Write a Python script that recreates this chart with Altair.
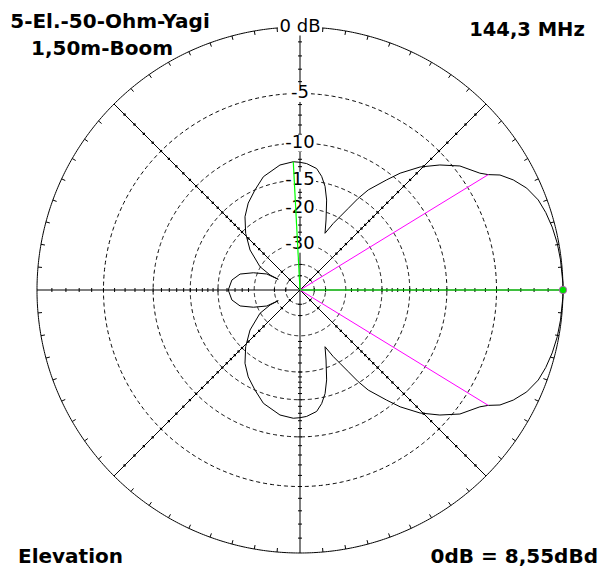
import altair as alt
import numpy as np
import pandas as pd

# ---------------- values ----------------
# radiation pattern, upper half (elevation angle in degrees, relative dB); the plot is mirror-symmetric
pattern_angle = [0, 1.5, 6.6, 10.3, 14.0, 17.5, 20.7, 24.2, 27.3, 29.9, 31.5, 33.0, 37.8, 41.8,
                 45.7, 49.4, 51.8, 55.7, 57.6, 59.4, 61.4, 63.5, 66.2, 69.6, 73.5, 76.4, 79.2,
                 82.2, 87.0, 90.0, 93.0, 99.1, 107.9, 114.2, 120.8, 126.9, 133.8, 141.3, 149.8,
                 153.4, 153.8, 154.3, 159.7, 165.1, 171.7, 180.0]
pattern_db = [0.0, 0.0, -0.05, -0.1, -0.2, -0.35, -0.55, -0.97, -1.57, -2.25, -3.0, -3.5, -4.5, -5.8,
              -7.3, -9.2, -10.8, -13.3, -15.2, -17.5, -19.7, -21.7, -24.8, -21.6, -17.7, -15.5, -14.1,
              -13.1, -12.55, -12.4, -12.3, -12.55, -13.6, -15.0, -16.4, -18.1, -20.75, -24.25, -29.8,
              -35.4, -40.9, -33.7, -28.6, -24.8, -23.0, -22.3]

grid_db = [-5, -10, -15, -20, -30, -40, -50]          # dashed rings
label_db = [0, -5, -10, -15, -20, -30]
label_text = ["0 dB", "-5", "-10", "-15", "-20", "-30"]
label_box_w = [44, 22, 32, 32, 32, 32]
tick_db = list(range(-1, -21, -1)) + [-22, -24, -26, -28, -40, -50]
rim_tick_step_deg = 5

beam_angle = [31.5, -31.5]      # -3 dB points (magenta)
beam_db = [-3.0, -3.0]
max_angle = [0.0, 93.0]         # main lobe / largest side lobe (green)
max_db = [0.0, -12.3]

title_lines = ["5-El.-50-Ohm-Yagi", "1,50m-Boom"]
freq_text = "144,3 MHz"
plane_text = "Elevation"
gain_text = "0dB = 8,55dBd"

# ---------------- scale (ARRL log-periodic radial scale) ----------------
R = 263.0


def radius(db):
    return R * 0.89 ** (-np.asarray(db, dtype=float) / 2.0)


W, H = 590, 563
xs = alt.Scale(domain=[-292, W - 292], nice=False, zero=False)
ys = alt.Scale(domain=[282 - H, 282], nice=False, zero=False)
X = lambda f: alt.X(f, type="quantitative", scale=xs, axis=None)
Y = lambda f: alt.Y(f, type="quantitative", scale=ys, axis=None)

# rings
t = np.linspace(0, 2 * np.pi, 721)
ring_rows = []
for d in grid_db:
    r = float(radius(d))
    for i, tt in enumerate(t):
        ring_rows.append(dict(g=d, i=i, x=r * np.cos(tt), y=r * np.sin(tt)))
rings = pd.DataFrame(ring_rows)
outer = pd.DataFrame(dict(i=range(len(t)), x=R * np.cos(t), y=R * np.sin(t)))

# axes through centre
ax_rows = []
for a in [0, 45, 90, 135]:
    ar = np.radians(a)
    ax_rows.append(dict(x=R * np.cos(ar), y=R * np.sin(ar), x2=-R * np.cos(ar), y2=-R * np.sin(ar)))
axes_df = pd.DataFrame(ax_rows)

# rim ticks
rim_rows = []
for a in range(0, 360, rim_tick_step_deg):
    if a % 45 == 0:
        continue
    ar = np.radians(a)
    rim_rows.append(dict(x=R * np.cos(ar), y=R * np.sin(ar),
                         x2=(R - 4) * np.cos(ar), y2=(R - 4) * np.sin(ar)))
rim_df = pd.DataFrame(rim_rows)

# dB ticks on horizontal / vertical axes, dots on diagonals
tk_rows, dot_rows = [], []
for d in tick_db:
    r = float(radius(d))
    for s in (1, -1):
        tk_rows.append(dict(x=s * r, y=-2, x2=s * r, y2=2))
        tk_rows.append(dict(x=-2, y=s * r, x2=2, y2=s * r))
    c = r / np.sqrt(2)
    for sx in (1, -1):
        for sy in (1, -1):
            dot_rows.append(dict(x=sx * c, y=sy * c))
tk_df = pd.DataFrame(tk_rows)
dot_df = pd.DataFrame(dot_rows)

# labels and their opaque backgrounds
lr = radius(label_db)
lab_df = pd.DataFrame(dict(x=0.0, y=lr, t=label_text))
bw = np.asarray(label_box_w, dtype=float)
box_df = pd.DataFrame(dict(x=-bw / 2, x2=bw / 2, y=lr - 8.5, y2=lr + 8.5))

# pattern (mirror the upper half)
full_ang = pattern_angle + [360 - a for a in reversed(pattern_angle[:-1])]
full_db = pattern_db + list(reversed(pattern_db[:-1]))
pr = radius(full_db)
pa = np.radians(full_ang)
pat_df = pd.DataFrame(dict(i=range(len(full_ang)), x=pr * np.cos(pa), y=pr * np.sin(pa)))

# marker lines
br = radius(beam_db)
bmr = np.radians(beam_angle)
beam_df = pd.DataFrame(dict(x=0.0, y=0.0, x2=br * np.cos(bmr), y2=br * np.sin(bmr)))
mr = radius(max_db)
mar = np.radians(max_angle)
max_df = pd.DataFrame(dict(x=0.0, y=0.0, x2=mr * np.cos(mar), y2=mr * np.sin(mar)))
dot_max = max_df.iloc[[0]][["x2", "y2"]].rename(columns={"x2": "x", "y2": "y"})

# ---------------- layers ----------------
ring_layer = alt.Chart(rings).mark_line(color="black", strokeWidth=1, strokeDash=[4, 3]).encode(
    x=X("x"), y=Y("y"), detail="g:N", order="i:Q")
outer_layer = alt.Chart(outer).mark_line(color="black", strokeWidth=1).encode(
    x=X("x"), y=Y("y"), order="i:Q")
axes_layer = alt.Chart(axes_df).mark_rule(color="black", strokeWidth=1).encode(
    x=X("x"), y=Y("y"), x2="x2", y2="y2")
rim_layer = alt.Chart(rim_df).mark_rule(color="black", strokeWidth=1).encode(
    x=X("x"), y=Y("y"), x2="x2", y2="y2")
tk_layer = alt.Chart(tk_df).mark_rule(color="black", strokeWidth=1).encode(
    x=X("x"), y=Y("y"), x2="x2", y2="y2")
dot_layer = alt.Chart(dot_df).mark_point(shape="square", filled=True, size=5, color="black", opacity=1).encode(
    x=X("x"), y=Y("y"))

lab_font = "DejaVu Sans"
box_layer = alt.Chart(box_df).mark_rect(color="white", opacity=1).encode(
    x=X("x"), x2="x2", y=Y("y"), y2="y2")
labels = alt.Chart(lab_df).mark_text(font=lab_font, fontSize=18, color="black",
                                     baseline="middle", align="center").encode(
    x=X("x"), y=Y("y"), text="t:N")

pat_layer = alt.Chart(pat_df).mark_line(color="black", strokeWidth=1).encode(
    x=X("x"), y=Y("y"), order="i:Q")
beam_layer = alt.Chart(beam_df).mark_rule(color="#FF00FF", strokeWidth=1).encode(
    x=X("x"), y=Y("y"), x2="x2", y2="y2")
max_layer = alt.Chart(max_df).mark_rule(color="#00FF00", strokeWidth=1.2).encode(
    x=X("x"), y=Y("y"), x2="x2", y2="y2")
maxdot_layer = alt.Chart(dot_max).mark_circle(size=55, color="#00E000", opacity=1,
                                              stroke="#CC44CC", strokeWidth=0.8).encode(
    x=X("x"), y=Y("y"))

title_font = "DejaVu Sans"


def txt(s, x, y, align, size):
    return alt.Chart(pd.DataFrame({"t": [s]})).mark_text(
        font=title_font, fontSize=size, fontWeight="bold", color="black",
        align=align, baseline="alphabetic").encode(
        x=alt.value(x), y=alt.value(y), text="t:N")


texts = [
    txt(title_lines[0], 102, 19.5, "center", 20),
    txt(title_lines[1], 94, 47, "center", 20),
    txt(freq_text, 519, 28, "center", 19.5),
    txt(plane_text, 10, 555, "left", 20),
    txt(gain_text, 590, 555, "right", 20),
]

chart = alt.layer(
    ring_layer, outer_layer, axes_layer, rim_layer, tk_layer, dot_layer,
    box_layer, labels, pat_layer, beam_layer, max_layer, maxdot_layer, *texts
).properties(width=W, height=H, padding=0, autosize=alt.AutoSizeParams(type="none")
).configure_view(strokeWidth=0, stroke="transparent")

chart.save("out.html", embed_options={"renderer": "svg", "actions": False})
